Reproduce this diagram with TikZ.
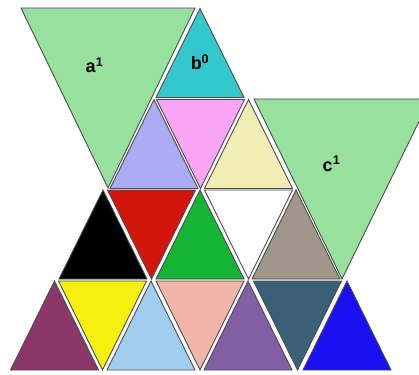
\documentclass[tikz,border=0pt]{standalone}
\usepackage{fontspec}
\setmainfont{Liberation Sans}

\definecolor{leaf}{RGB}{152,224,158}
\definecolor{teal}{RGB}{52,200,204}
\definecolor{lavender}{RGB}{170,170,245}
\definecolor{pinkish}{RGB}{250,165,245}
\definecolor{beige}{RGB}{240,238,180}
\definecolor{redish}{RGB}{210,22,12}
\definecolor{grass}{RGB}{20,180,52}
\definecolor{stone}{RGB}{160,150,140}
\definecolor{maroon}{RGB}{140,55,105}
\definecolor{lemon}{RGB}{245,240,15}
\definecolor{sky}{RGB}{160,205,240}
\definecolor{salmon}{RGB}{240,180,170}
\definecolor{plum}{RGB}{130,95,165}
\definecolor{slate}{RGB}{60,95,120}
\definecolor{deepblue}{RGB}{25,15,240}

\begin{document}
\begin{tikzpicture}[
    x=1pt, y=-1pt,
    tile/.style={draw=black!70, line width=0.9pt, line join=miter},
    bigtile/.style={tile, fill=leaf},
    lbl/.style={font=\fontsize{18}{18}\selectfont\bfseries, anchor=base, inner sep=0pt}
]
\useasboundingbox (0,0) rectangle (419,374);
\clip (0,0) rectangle (419,374);

% Big triangles
\draw[bigtile] (21,8) -- (195,8) -- (108,188) -- cycle;
\draw[bigtile] (254,99) -- (430,99) -- (342,279) -- cycle;

% Top row
\draw[tile, fill=teal] (200,8.5) -- ++(44,89) -- ++(-88,0) -- cycle;

% Second row
\draw[tile, fill=lavender] (154,99.5) -- ++(44,89) -- ++(-88,0) -- cycle;
\draw[tile, fill=pinkish] (156.5,99.5) -- ++(88,0) -- ++(-44,89) -- cycle;
\draw[tile, fill=beige] (248.5,99.5) -- ++(44,89) -- ++(-88,0) -- cycle;

% Third row
\draw[tile, fill=black] (103,190) -- ++(44,89) -- ++(-88,0) -- cycle;
\draw[tile, fill=redish] (107.5,190) -- ++(88,0) -- ++(-44,89) -- cycle;
\draw[tile, fill=grass] (200,190) -- ++(44,89) -- ++(-88,0) -- cycle;
\draw[tile, fill=white] (204.5,190) -- ++(88,0) -- ++(-44,89) -- cycle;
\draw[tile, fill=stone] (296,190) -- ++(44,89) -- ++(-88,0) -- cycle;

% Bottom row
\draw[tile, fill=maroon] (54.5,281) -- ++(44,89) -- ++(-88,0) -- cycle;
\draw[tile, fill=lemon] (58.5,281) -- ++(88,0) -- ++(-44,89) -- cycle;
\draw[tile, fill=sky] (151,281) -- ++(44,89) -- ++(-88,0) -- cycle;
\draw[tile, fill=salmon] (156,281) -- ++(88,0) -- ++(-44,89) -- cycle;
\draw[tile, fill=plum] (248,281) -- ++(44,89) -- ++(-88,0) -- cycle;
\draw[tile, fill=slate] (253.5,281) -- ++(88,0) -- ++(-44,89) -- cycle;
\draw[tile, fill=deepblue] (347,281) -- ++(44,89) -- ++(-88,0) -- cycle;

% Labels
\node[lbl] (a1) at (94.5,73) {a\textsuperscript{1}};
\node[lbl] (b0) at (200,70) {b\textsuperscript{0}};
\node[lbl] (c1) at (331.5,171) {c\textsuperscript{1}};

\end{tikzpicture}
\end{document}
